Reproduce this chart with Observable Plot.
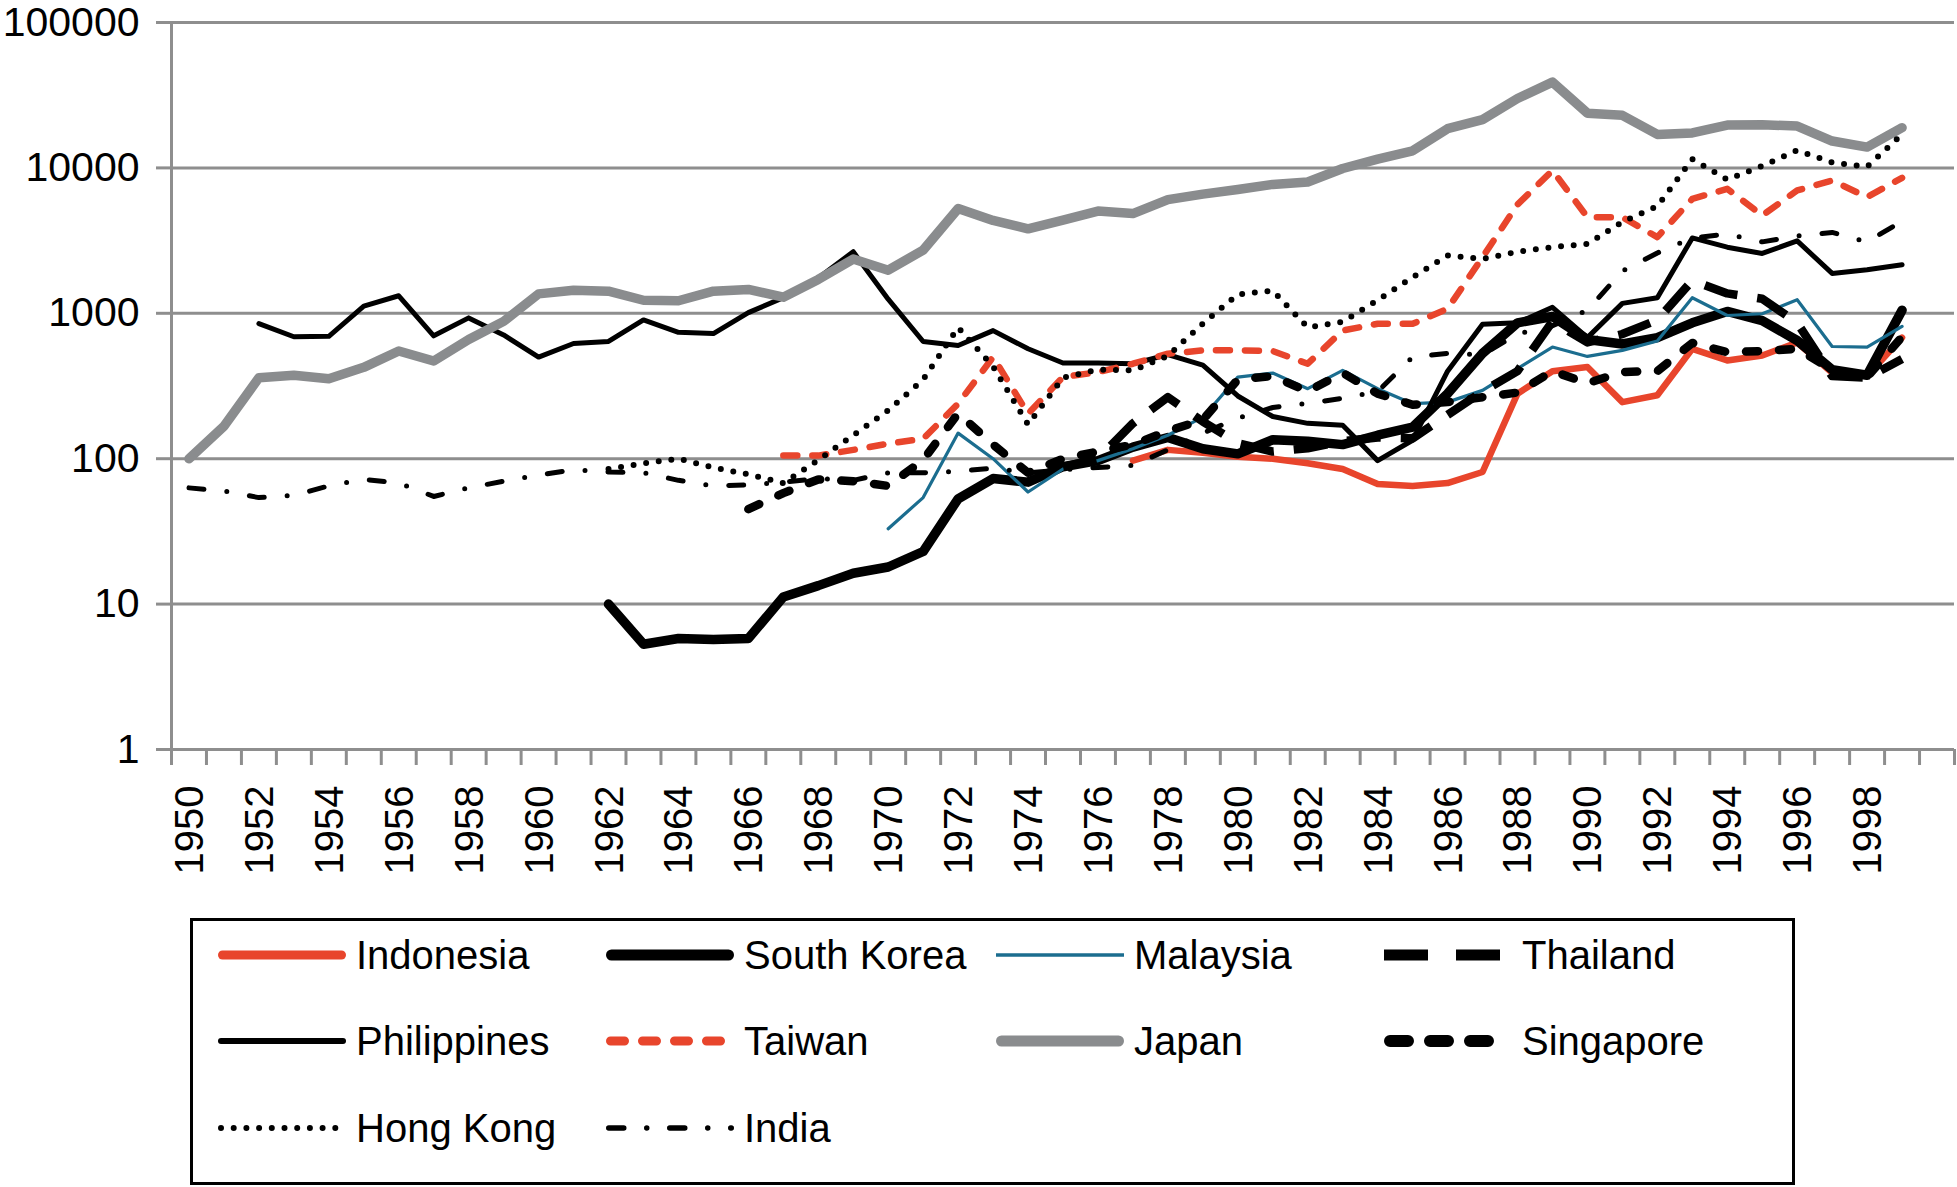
<!DOCTYPE html>
<html>
<head>
<meta charset="utf-8">
<script src="https://cdn.jsdelivr.net/npm/d3@7"></script>
<script src="https://cdn.jsdelivr.net/npm/@observablehq/plot@0.6"></script>
<style>
  html, body { margin: 0; padding: 0; background: #ffffff; }
  body { width: 1957px; height: 1187px; position: relative; overflow: hidden;
         font-family: "Liberation Sans", Arial, Helvetica, sans-serif; }
  #chart svg { display: block; }
  #legend { position: absolute; left: 190px; top: 918px; width: 1605px; height: 267px;
            border: 3px solid #000; box-sizing: border-box; }
  .item { position: absolute; display: flex; align-items: center; height: 60px;
          font-size: 40px; color: #000; white-space: nowrap; }
  .item svg { display: block; margin-right: 10px; }
</style>
</head>
<body>
<div id="chart"></div>
<div id="legend"></div>
<script>
// ---------------- data ----------------
const firstYear = 1950, lastYear = 1999;
const yTicks = [1, 10, 100, 1000, 10000, 100000];
const labelYears = d3.range(1950, 2000, 2);          // 1950 … 1998
const categoryEdges = d3.range(1949.5, 2001, 1);     // tick marks between categories (1950 … 2000)

const indonesiaStart = 1977;
const indonesia = [97, 115, 110, 103, 100, 93, 85, 67, 65, 68, 81, 280, 400, 427, 245, 273, 570, 474, 513, 630, 390, 370, 680];

const southKoreaStart = 1962;
const southKorea = [10, 5.3, 5.8, 5.7, 5.8, 11.2, 13.4, 16.3, 18, 23, 53, 73, 69, 88, 97, 120, 140, 117, 108, 135, 132, 125, 145, 165, 280, 530, 860, 950, 660, 615, 680, 860, 1030, 890, 650, 410, 375, 1050];

const malaysiaStart = 1970;
const malaysia = [33, 54, 150, 100, 59, 85, 97, 117, 145, 193, 364, 388, 303, 405, 303, 239, 245, 295, 417, 586, 505, 556, 645, 1280, 966, 993, 1240, 591, 586, 813];

const thailandStart = 1975;
const thailand = [88, 100, 175, 265, 180, 128, 112, 118, 132, 140, 138, 200, 290, 400, 880, 630, 720, 900, 1680, 1370, 1260, 860, 370, 360, 485];

const philippinesStart = 1952;
const philippines = [850, 690, 695, 1120, 1320, 700, 930, 710, 500, 620, 640, 900, 740, 725, 1010, 1280, 1750, 2650, 1250, 640, 600, 760, 570, 455, 455, 450, 520, 440, 270, 195, 175, 170, 97, 134, 400, 840, 860, 1100, 680, 1170, 1280, 3300, 2850, 2580, 3150, 1880, 1990, 2160];

const taiwanStart = 1967;
const taiwan = [105, 105, 115, 127, 137, 239, 500, 204, 364, 394, 450, 527, 556, 556, 550, 450, 762, 847, 847, 1074, 2430, 5600, 9600, 4580, 4580, 3340, 6120, 7180, 4710, 7000, 8190, 6290, 8550];

const japanStart = 1950;
const japan = [100, 167, 360, 375, 355, 425, 550, 470, 660, 880, 1360, 1440, 1420, 1230, 1220, 1420, 1460, 1290, 1710, 2360, 1980, 2720, 5250, 4350, 3810, 4380, 5050, 4850, 6050, 6600, 7100, 7700, 8000, 9900, 11500, 13100, 18600, 21500, 30000, 38900, 23800, 23000, 17000, 17400, 19700, 19800, 19400, 15300, 13900, 18900];

const singaporeStart = 1966;
const singapore = [45, 58, 72, 70, 65, 98, 205, 125, 80, 100, 112, 125, 155, 185, 350, 370, 290, 390, 280, 235, 245, 265, 285, 400, 330, 395, 400, 625, 540, 550, 570, 410, 365, 690];

const hongKongStart = 1962;
const hongKong = [85, 93, 100, 87, 78, 68, 98, 145, 215, 350, 800, 430, 172, 360, 410, 405, 510, 850, 1350, 1430, 800, 875, 1230, 1770, 2500, 2370, 2650, 2850, 3000, 4250, 5450, 11500, 8300, 10300, 13200, 10900, 10200, 17000];

const indiaStart = 1950;
const india = [63, 60, 54, 56, 65, 72, 68, 55, 63, 70, 77, 84, 81, 80, 71, 65, 66, 69, 73, 71, 80, 80, 82, 86, 80, 84, 87, 90, 115, 150, 190, 225, 240, 260, 290, 500, 530, 520, 720, 820, 1050, 1950, 2600, 3300, 3500, 3100, 3400, 3600, 3100, 4300];

// ---------------- styles ----------------
const RED = "#E8452C", BLUE = "#1B6D8F", JGRAY = "#8A8C8E", GRID = "#8E8E8E";

const series = [
  {name: "Indonesia",   start: indonesiaStart,   values: indonesia,   stroke: RED,   width: 6.5, dash: null,          cap: "round", lw: 9,  ldash: null,          lcap: "round"},
  {name: "South Korea", start: southKoreaStart,  values: southKorea,  stroke: "#000", width: 9.5, dash: null,         cap: "round", lw: 11, ldash: null,          lcap: "round"},
  {name: "Malaysia",    start: malaysiaStart,    values: malaysia,    stroke: BLUE,  width: 3.2, dash: null,          cap: "round", lw: 3.5, ldash: null,         lcap: "butt"},
  {name: "Thailand",    start: thailandStart,    values: thailand,    stroke: "#000", width: 8.5, dash: "34,20",     cap: "butt",  lw: 11, ldash: "44,28",       lcap: "butt"},
  {name: "Philippines", start: philippinesStart, values: philippines, stroke: "#000", width: 5,   dash: null,         cap: "round", lw: 6,  ldash: null,          lcap: "round"},
  {name: "Taiwan",      start: taiwanStart,      values: taiwan,      stroke: RED,   width: 6.5, dash: "14,15",       cap: "round", lw: 9,  ldash: "14,18",       lcap: "round"},
  {name: "Japan",       start: japanStart,       values: japan,       stroke: JGRAY, width: 9.5, dash: null,          cap: "round", lw: 11, ldash: null,          lcap: "round"},
  {name: "Singapore",   start: singaporeStart,   values: singapore,   stroke: "#000", width: 8.5, dash: "12,21",     cap: "round", lw: 12, ldash: "18,22",       lcap: "round"},
  {name: "Hong Kong",   start: hongKongStart,    values: hongKong,    stroke: "#000", width: 6,   dash: "0,12.7",    cap: "round", lw: 6,  ldash: "0,12.7",      lcap: "round"},
  {name: "India",       start: indiaStart,       values: india,       stroke: "#000", width: 5,   dash: "15,23,0,23", cap: "round", lw: 5.5, ldash: "15,23,0,23", lcap: "round"}
];

const rows = series.flatMap(s => s.values.map((v, i) => ({series: s.name, year: s.start + i, value: v})));

// ---------------- chart ----------------
const lineMarks = series.map(s => Plot.line(rows.filter(d => d.series === s.name), {
  x: "year", y: "value",
  stroke: s.stroke, strokeWidth: s.width,
  strokeDasharray: s.dash || undefined,
  strokeLinecap: s.cap, strokeLinejoin: "round"
}));

const chart = Plot.plot({
  width: 1957,
  height: 880,
  marginLeft: 171,
  marginRight: 3,
  marginTop: 22,
  marginBottom: 131,
  style: {fontFamily: '"Liberation Sans", Arial, Helvetica, sans-serif', background: "#ffffff", color: "#000"},
  x: {type: "linear", domain: [firstYear - 0.5, lastYear + 1.5]},
  y: {type: "log", domain: [1, 100000]},
  marks: [
    Plot.ruleY(yTicks, {stroke: GRID, strokeWidth: 3}),
    Plot.ruleX([firstYear - 0.5], {stroke: GRID, strokeWidth: 3}),
    Plot.axisY({ticks: yTicks, tickSize: 15, tickPadding: 17, fontSize: 41,
                tickFormat: d => String(d), stroke: GRID, strokeWidth: 3, fill: "#000", label: null}),
    Plot.axisX({ticks: categoryEdges, tickSize: 16, stroke: GRID, strokeWidth: 3,
                fill: "none", tickFormat: () => "", label: null}),
    Plot.text(labelYears, {x: d => d, text: d => String(d), frameAnchor: "bottom", dx: 14, dy: 36,
                           rotate: -90, textAnchor: "end", fontSize: 40, fill: "#000"}),
    ...lineMarks
  ]
});
document.getElementById("chart").appendChild(chart);

// ---------------- legend ----------------
const legend = document.getElementById("legend");
const colX = [25, 413, 803, 1191];      // sample left edge relative to legend box
const rowY = [34, 120, 207];            // row centre relative to legend box
series.forEach((s, i) => {
  const col = i % 4, row = Math.floor(i / 4);
  const item = document.createElement("div");
  item.className = "item";
  item.style.left = colX[col] + "px";
  item.style.top = (rowY[row] - 30) + "px";
  const svg = d3.create("svg").attr("width", 128).attr("height", 60);
  const pad = s.lcap === "round" ? s.lw / 2 : 0;
  svg.append("line")
    .attr("x1", pad).attr("x2", 128 - pad).attr("y1", 30).attr("y2", 30)
    .attr("stroke", s.stroke).attr("stroke-width", s.lw)
    .attr("stroke-linecap", s.lcap)
    .attr("stroke-dasharray", s.ldash);
  item.appendChild(svg.node());
  const label = document.createElement("span");
  label.textContent = s.name;
  item.appendChild(label);
  legend.appendChild(item);
});
</script>
</body>
</html>
